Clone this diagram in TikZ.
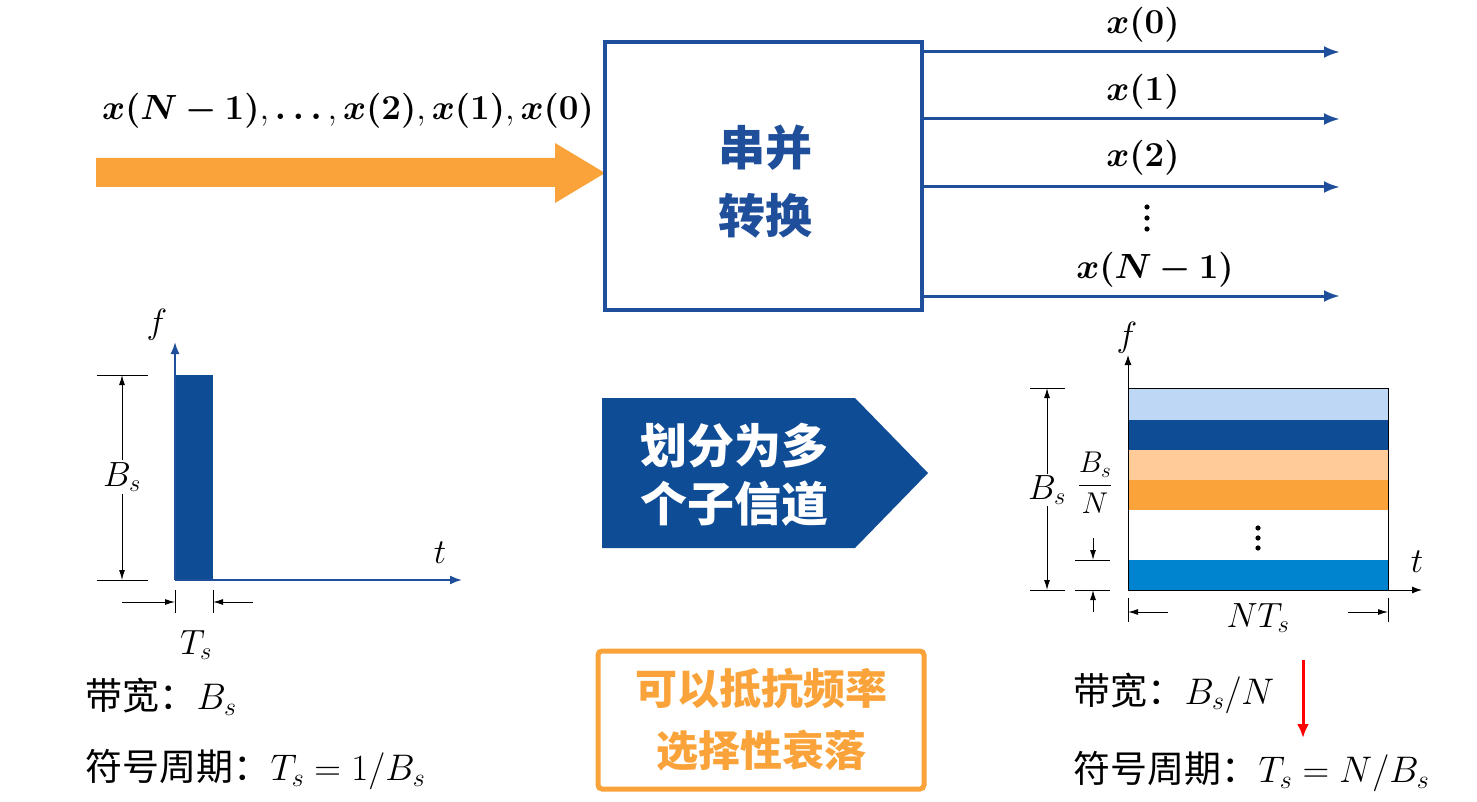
\documentclass[tikz,border=0pt]{standalone}
\usepackage{fix-cm}
\usepackage{fontspec}
\usepackage{amsmath,bm}
\newfontfamily\cjk{Noto Sans CJK SC}
\usetikzlibrary{arrows.meta}
\definecolor{dblue}{HTML}{0F4C96}
\definecolor{bblue}{HTML}{1F4E9A}
\definecolor{orng}{HTML}{F9A33A}
\definecolor{lorng}{HTML}{FFCC99}
\definecolor{lblue}{HTML}{BDD7F5}
\definecolor{mblue}{HTML}{0084D0}
\begin{document}
\begin{tikzpicture}[x=1pt,y=-1pt,
  lab/.style={font=\fontsize{35}{40}\selectfont},
  cjklab/.style={anchor=west,font=\fontsize{37}{40}\selectfont\cjk},
  outarr/.style={draw=bblue,line width=3pt,-{Latex[length=16pt,width=12pt]}},
  ax/.style={draw=bblue,line width=1.8pt,-{Latex[length=12pt,width=9pt]}},
  dim/.style={line width=1pt,-{Latex[length=10pt,width=6pt]}},
  tick/.style={line width=1pt},
  dot/.style={fill=black,radius=2.6pt}]
\useasboundingbox (0,0) rectangle (1477,802);
% input arrow
\fill[orng] (96,158) -- (555,158) -- (555,143) -- (605,173) -- (555,203) -- (555,187) -- (96,187) -- cycle;
\node[lab] (inlab) at (348,111) {$\bm{x(N-1)},\bm{\ldots},\bm{x(2)},\bm{x(1)},\bm{x(0)}$};
% box
\node[draw=bblue,line width=3.5pt,minimum width=317pt,minimum height=268pt] (sp) at (763.5,176) {};
\node[text=bblue,align=center,font=\fontsize{47}{68}\selectfont\cjk\bfseries] (sptext) at (765,182) {串并\\转换};
\coordinate (o0) at (1340,52);
\coordinate (o1) at (1340,119);
\coordinate (o2) at (1340,187);
\coordinate (o3) at (1340,296);
\draw[outarr] (922,52) -- (o0);
\draw[outarr] (922,119) -- (o1);
\draw[outarr] (922,187) -- (o2);
\draw[outarr] (922,296) -- (o3);
\node[lab] (l0) at (1143,25) {$\bm{x(0)}$};
\node[lab] (l1) at (1143,92) {$\bm{x(1)}$};
\node[lab] (l2) at (1143,158) {$\bm{x(2)}$};
\node[lab] (l3) at (1155,270) {$\bm{x(N-1)}$};
\fill[dot] (1147,207) circle; \fill[dot] (1147,218) circle; \fill[dot] (1147,229) circle;
% left chart
\coordinate (lo) at (175,580);
\coordinate (lf) at (175,342);
\coordinate (lt) at (462,580);
\fill[dblue] (175,375) rectangle (213,580);
\draw[ax] (lo) -- (lf);
\draw[ax] (lo) -- (lt);
\node[lab] (lfl) at (157,325) {$f$};
\node[lab] (ltl) at (440,553) {$t$};
\draw[tick] (97,375) -- (148,375);
\draw[tick] (97,580) -- (148,580);
\coordinate (bm) at (122,477);
\node[lab,fill=white,inner sep=2pt] (lbs) at (bm) {$B_s$};
\draw[dim] (lbs.north) -- (122,375);
\draw[dim] (lbs.south) -- (122,580);
\draw[tick] (175,590) -- (175,613);
\draw[tick] (213,590) -- (213,613);
\draw[dim] (122,602) -- (175,602);
\draw[dim] (253,602) -- (213,602);
\node[lab] (lts) at (196,645) {$T_s$};
\node[cjklab] (bw1) at (82,697) {带宽：$B_s$};
\node[cjklab] (sp1) at (82,770) {符号周期：$T_s=1/B_s$};
% chevron
\fill[dblue] (602,398) -- (855,398) -- (928,473) -- (855,548) -- (602,548) -- cycle;
\node[text=white,align=center,font=\fontsize{47}{58}\selectfont\cjk\bfseries] (chev) at (734,475) {划分为多\\个子信道};
% orange box
\node[draw=orng,line width=5pt,rounded corners=4pt,minimum width=326pt,minimum height=138pt,text=orng,align=center,font=\fontsize{42}{62}\selectfont\cjk\bfseries] (ob) at (761,720) {可以抵抗频率\\选择性衰落};
% right chart
\fill[lblue] (1128,388) rectangle (1388,420);
\fill[dblue] (1128,420) rectangle (1388,450);
\fill[lorng] (1128,450) rectangle (1388,480);
\fill[orng] (1128,480) rectangle (1388,510);
\fill[mblue] (1128,560) rectangle (1388,590);
\draw[line width=1pt] (1128,388) rectangle (1388,590);
\fill[dot] (1258,528) circle; \fill[dot] (1258,538) circle; \fill[dot] (1258,548) circle;
\coordinate (ro) at (1128,590);
\coordinate (rf) at (1128,355);
\coordinate (rt) at (1422,590);
\draw[line width=1pt,-{Latex[length=10pt,width=7pt]}] (ro) -- (rf);
\draw[line width=1pt,-{Latex[length=10pt,width=7pt]}] (ro) -- (rt);
\node[lab] (rfl) at (1127,338) {$f$};
\node[lab] (rtl) at (1417,562) {$t$};
\draw[tick] (1030,388) -- (1065,388);
\draw[tick] (1030,590) -- (1065,590);
\node[lab,fill=white,inner sep=1pt] (rbs) at (1047,490) {$B_s$};
\draw[dim] (rbs.north) -- (1047,388);
\draw[dim] (rbs.south) -- (1047,590);
\node[font=\fontsize{30}{36}\selectfont] (bsn) at (1095,483) {$\dfrac{B_s}{N}$};
\draw[tick] (1075,560) -- (1110,560);
\draw[tick] (1075,590) -- (1110,590);
\draw[dim] (1093,538) -- (1093,560);
\draw[dim] (1093,612) -- (1093,590);
\draw[tick] (1128,598) -- (1128,622);
\draw[tick] (1388,598) -- (1388,622);
\node[lab] (nts) at (1258,618) {$NT_s$};
\draw[dim] (1168,612) -- (1128,612);
\draw[dim] (1348,612) -- (1388,612);
\node[cjklab] (bw2) at (1070,693) {带宽：$B_s/N$};
\node[cjklab] (sp2) at (1070,772) {符号周期：$T_s=N/B_s$};
\coordinate (ra1) at (1303,660);
\coordinate (ra2) at (1303,738);
\draw[red,line width=3pt,-{Latex[length=14pt,width=12pt]}] (ra1) -- (ra2);
\end{tikzpicture}
\end{document}
